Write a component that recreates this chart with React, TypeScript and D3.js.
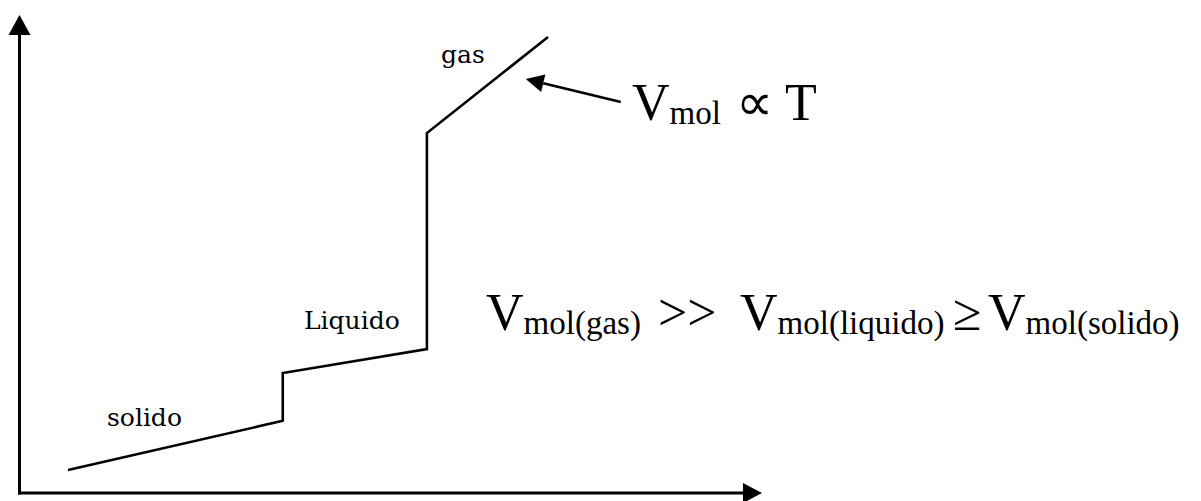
import React from "react";
import * as d3 from "d3";

// Curve of molar volume vs temperature (arbitrary units 0..100)
const curveT = [6.6, 35.5, 35.5, 54.9, 54.9, 71.2];
const curveV = [4.8, 15.1, 25.1, 30.1, 75.3, 95.4];
// annotation arrow (tail -> tip) in data units
const arrowT = [81.0, 68.2];
const arrowV = [81.8, 86.6];
const phaseLabels = ["solido", "Liquido", "gas"];

const W = 1201;
const H = 501;

export default function App() {
  const x = d3.scaleLinear().domain([0, 100]).range([19, 762]);
  const y = d3.scaleLinear().domain([0, 100]).range([493, 15]);
  const pts: [number, number][] = curveT.map((t, i) => [x(t), y(curveV[i])]);
  const line = d3.line();

  const ax0 = x(0), ay0 = y(0);
  const xEnd = x(100), yEnd = y(100);

  // arrow annotation geometry
  const tx = x(arrowT[0]), ty = y(arrowV[0]);
  const hx = x(arrowT[1]), hy = y(arrowV[1]);
  const ang = Math.atan2(hy - ty, hx - tx);
  const hl = 18, hw = 9;
  const bx = hx - hl * Math.cos(ang), by = hy - hl * Math.sin(ang);
  const head = `M${hx},${hy}L${bx + hw * Math.sin(ang)},${by - hw * Math.cos(ang)}L${bx - hw * Math.sin(ang)},${by + hw * Math.cos(ang)}Z`;

  const labelFont = "'DejaVu Serif', serif";
  const mathFont = "'Liberation Serif', 'Times New Roman', serif";
  const big = 52;
  const sub = 33;

  return (
    <svg width={W} height={H} style={{ position: "absolute", left: 0, top: 0, background: "#fff" }}>
      <rect width={W} height={H} fill="#fff" />
      {/* axes */}
      <line x1={ax0 + 0.5} y1={ay0 + 1.5} x2={ax0 + 0.5} y2={yEnd + 20} stroke="#000" strokeWidth={3} />
      <path d={`M${ax0 + 0.5},${yEnd}L${ax0 - 10.5},${yEnd + 20}L${ax0 + 11.5},${yEnd + 20}Z`} fill="#000" />
      <line x1={ax0 - 1} y1={ay0} x2={xEnd - 19} y2={ay0} stroke="#000" strokeWidth={3} />
      <path d={`M${xEnd},${ay0}L${xEnd - 19},${ay0 - 10}L${xEnd - 19},${ay0 + 10}Z`} fill="#000" />

      {/* curve */}
      <path d={line(pts) || ""} fill="none" stroke="#000" strokeWidth={2.6} strokeLinejoin="miter" />

      {/* annotation arrow */}
      <line x1={tx} y1={ty} x2={bx} y2={by} stroke="#000" strokeWidth={2.6} />
      <path d={head} fill="#000" />

      {/* phase labels */}
      <text x={107} y={426} fontFamily={labelFont} fontSize={25} fill="#000">{phaseLabels[0]}</text>
      <text x={304} y={329} fontFamily={labelFont} fontSize={25} fill="#000">{phaseLabels[1]}</text>
      <text x={441} y={63} fontFamily={labelFont} fontSize={25} fill="#000">{phaseLabels[2]}</text>

      {/* V_mol ∝ T */}
      <text x={632} y={120} fontFamily={mathFont} fontSize={big} fill="#000">
        <tspan>V</tspan>
        <tspan fontSize={sub} dy={4}>mol</tspan>
        <tspan dy={-4} x={736}>∝</tspan>
        <tspan x={785}>T</tspan>
      </text>

      {/* relation */}
      <text x={486} y={330} fontFamily={mathFont} fontSize={big} fill="#000">
        <tspan>V</tspan>
        <tspan fontSize={sub} dy={4}>mol(gas)</tspan>
        <tspan dy={-4} x={658}>&gt;&gt;</tspan>
        <tspan x={740}>V</tspan>
        <tspan fontSize={sub} dy={4}>mol(liquido)</tspan>
        <tspan dy={-4} x={953}>≥</tspan>
        <tspan x={988}>V</tspan>
        <tspan fontSize={sub} dy={4}>mol(solido)</tspan>
      </text>
    </svg>
  );
}
